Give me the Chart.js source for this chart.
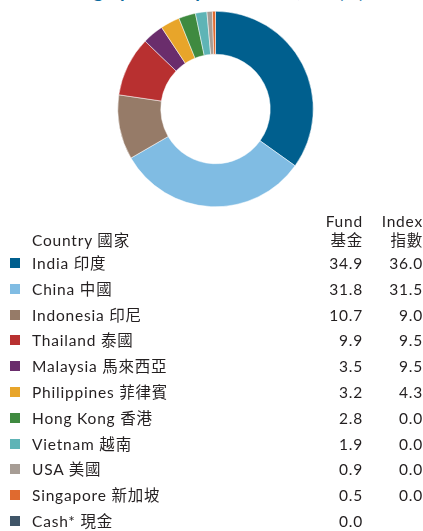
<!DOCTYPE html>
<html>
<head>
<meta charset="utf-8">
<script src="https://cdn.jsdelivr.net/npm/chart.js@4/dist/chart.umd.min.js"></script>
<style>
  body { margin: 0; background: #fff; width: 423px; height: 531px; overflow: hidden; position: relative;
         font-family: Lato, "Noto Sans CJK TC", sans-serif; color: #231f20; }
  #title { position: absolute; left: 0; width: 423px; top: -24px; text-align: center;
           font-size: 19px; font-weight: bold; color: #0b6a9e; white-space: nowrap; }
  #chart-box { position: absolute; left: 0; top: 0; width: 423px; height: 220px; }
  .row { position: absolute; left: 0; width: 423px; height: 20px; line-height: 20px;
         font-size: 15.5px; letter-spacing: 0.8px; }
  .row span { position: absolute; top: 0; white-space: nowrap; }
  .swatch { position: absolute; left: 10px; top: 5px; width: 10px; height: 10px; }
  .name { left: 32px; }
  .fund { right: 60px; }
  .idx { right: 0px; }
</style>
</head>
<body>
<div id="title">Geographical Exposure 地區分佈 (%)</div>
<div id="chart-box"><canvas id="pie-chart" width="423" height="220"></canvas></div>
<div id="table"></div>
<script>
// Country weights, fund vs index (%)
const countries = ['India 印度', 'China 中國', 'Indonesia 印尼', 'Thailand 泰國', 'Malaysia 馬來西亞',
    'Philippines 菲律賓', 'Hong Kong 香港', 'Vietnam 越南', 'USA 美國', 'Singapore 新加坡', 'Cash* 現金'];
const fundWeights = [34.9, 31.8, 10.7, 9.9, 3.5, 3.2, 2.8, 1.9, 0.9, 0.5, 0.0];
const indexWeights = [36.0, 31.5, 9.0, 9.5, 9.5, 4.3, 0.0, 0.0, 0.0, 0.0, null];
const sliceColors = ['#005f8e', '#80bce3', '#967b68', '#b83030', '#6a2d6c', '#e8a52a',
    '#3f8a40', '#5eb4b6', '#a79d95', '#e06a2f', '#3f5568'];

// Table header + rows
function buildTable() {
    const table = document.getElementById('table');
    let html = `
        <div class="row" style="top:211px"><span class="fund">Fund</span><span class="idx">Index</span></div>
        <div class="row" style="top:230px"><span class="name">Country 國家</span><span class="fund">基金</span><span class="idx">指數</span></div>
    `;
    countries.forEach((name, i) => {
        const top = 253 + i * 25.8;
        const idx = indexWeights[i] === null ? '' : indexWeights[i].toFixed(1);
        html += `
            <div class="row" style="top:${top}px">
                <div class="swatch" style="background:${sliceColors[i]}"></div>
                <span class="name">${name}</span>
                <span class="fund">${fundWeights[i].toFixed(1)}</span>
                <span class="idx">${idx}</span>
            </div>
        `;
    });
    table.innerHTML = html;
}

// Doughnut of fund weights
function initializeChart() {
    new Chart(document.getElementById('pie-chart'), {
        type: 'doughnut',
        data: {
            labels: countries,
            datasets: [{
                data: fundWeights,
                backgroundColor: sliceColors,
                borderColor: '#ffffff',
                borderWidth: 0.5
            }]
        },
        options: {
            responsive: false,
            animation: false,
            cutout: '56%',
            layout: { padding: { left: 8, top: 11, bottom: 13 } },
            plugins: {
                legend: { display: false },
                tooltip: { enabled: false }
            }
        }
    });
}

buildTable();
initializeChart();
</script>
</body>
</html>
